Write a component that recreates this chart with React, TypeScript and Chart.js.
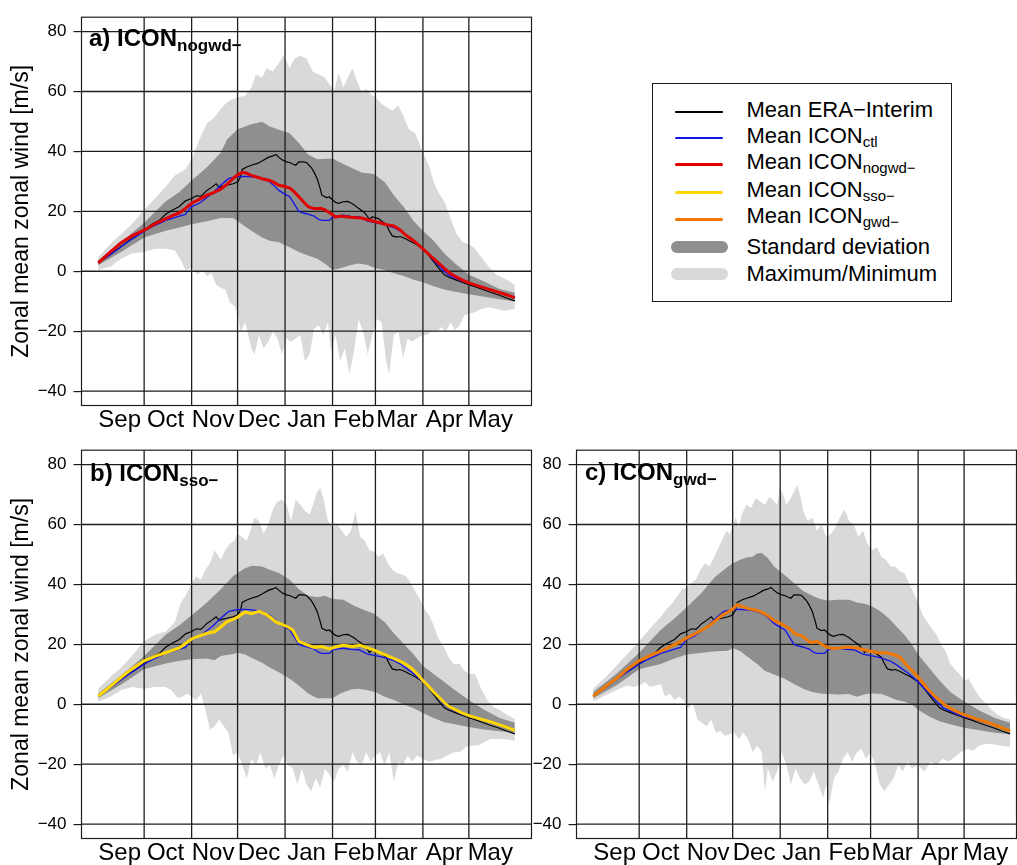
import React, { useEffect, useRef } from 'react';
import { Chart, registerables } from 'chart.js';

Chart.register(...registerables);

type P = [number, number];

const FONT = '"Liberation Sans", Arial, Helvetica, sans-serif';

// x axis: day of season, 0 = 1 Sep ... 272 = 31 May
const MONTHS = ['Sep', 'Oct', 'Nov', 'Dec', 'Jan', 'Feb', 'Mar', 'Apr', 'May'];
const MONTH_MID_DAYS = [14, 44, 75, 105, 136, 167, 195, 226, 256];
const MONTH_START_DAYS = [30, 61, 91, 122, 153, 181, 212, 242];
const Y_TICKS = [-40, -20, 0, 20, 40, 60, 80];
const Y_TITLE = 'Zonal mean zonal wind [m/s]';

// ---------- shared means ----------
const ERA: P[] = [[0,2.8],[5,4.6],[10,6.4],[15,8.3],[20,10.2],[25,11.8],[30,13.7],[35,15.7],[40,17],[44,19],[48,20.3],[53,21.6],[57,23.5],[61,24.3],[64,25.2],[67,25],[71,27],[74,28],[77,29.2],[79,28],[82,28.5],[84,28.7],[88,29.2],[91,29.8],[93,31.5],[94,34],[97,34.8],[100,35.4],[104,36],[107,36.8],[111,38],[114,38.5],[116,39],[118,38],[120,37.2],[123,36.5],[125,36.3],[127,35.8],[129,35.4],[131,36.5],[134,36.5],[136,36.3],[139,34.7],[141,33],[143,30.9],[145,27.5],[146,25.4],[149,24.6],[151,24.8],[153,23.8],[155,23],[157,22.7],[160,23.2],[163,23.3],[165,22.8],[167,22.2],[170,21],[172,20.3],[174,19.5],[176,18.2],[177,17.3],[179,18.2],[181,17.8],[183,17.6],[185,16.8],[188,15.7],[190,13.5],[192,11.8],[195,11.4],[197,11.6],[200,11],[203,10.2],[207,9.2],[212,7.5],[215,5.8],[219,3.2],[222,1.2],[226,-1.2],[229,-2],[233,-2.8],[237,-3.6],[242,-4.5],[247,-5.3],[251,-6.1],[256,-7],[262,-8],[267,-9],[272,-9.9]];

const CTL: P[] = [[0,2.8],[5,4.5],[10,6.3],[15,8.2],[20,10],[25,11.7],[30,13.4],[35,14.8],[40,16],[44,17],[48,17.6],[53,18.4],[57,19],[59,20.5],[61,21.6],[66,22.7],[71,24.6],[75,26.2],[80,28.7],[85,30.9],[88,31.3],[91,31.6],[96,31.7],[102,31.4],[107,30.9],[112,29.8],[115,28.5],[118,27],[121,26],[125,24.9],[128,22.5],[131,20],[133,19.6],[136,19.2],[141,18.4],[144,17.3],[146,17],[151,17],[153,18.2],[157,18.5],[160,18.7],[165,18.3],[170,18.2],[173,17.5],[176,16.7],[181,16.2],[185,15.8],[188,15.4],[193,14.6],[197,13.5],[200,12.4],[206,10.2],[212,7.5],[216,5.3],[219,3.7],[223,1.5],[226,-0.1],[229,-1.4],[233,-2.3],[237,-3.2],[242,-4.1],[250,-5.3],[257,-6.3],[265,-7.6],[272,-8.8]];

// ---------- panel a: ICON nogwd- ----------
const A_MEAN: P[] = [[0,2.8],[8,6.5],[15,9.5],[22,11.8],[30,13.7],[37,15.8],[44,17.5],[48,18.5],[53,19.5],[57,21],[61,22.7],[66,24],[71,25.4],[75,26.2],[80,27.4],[84,29],[88,30.9],[91,32.2],[94,33],[97,32.7],[100,32],[104,31.4],[107,30.9],[112,30.3],[115,29.6],[118,28.7],[122,28.3],[125,27.8],[128,26.5],[131,24.9],[134,23.2],[137,21.6],[140,21],[143,20.9],[145,21],[148,20.5],[151,19.5],[153,18.9],[155,18.1],[158,18.4],[162,18.2],[165,18],[169,17.9],[172,17.8],[176,17.2],[180,16.7],[184,16.2],[187,15.7],[190,15.4],[193,15.1],[197,13.9],[200,12.4],[203,11.3],[206,10.2],[212,7.5],[216,5.6],[219,4.2],[223,2.4],[226,1],[229,-0.4],[233,-1.7],[237,-2.8],[242,-3.9],[250,-5.2],[257,-6.3],[265,-7.6],[272,-8.8]];
const A_SD_HI: P[] = [[0,3.7],[15,9.7],[30,16.2],[44,23.3],[53,26.5],[61,30.3],[71,34.7],[80,39.6],[84,43.9],[91,47.4],[100,49.1],[107,49.9],[112,48.3],[118,47.2],[125,46.1],[131,42.8],[137,39],[143,37.4],[153,37.6],[160,35.8],[167,34.1],[172,33],[180,32.5],[187,29.8],[193,25.4],[200,21.1],[206,16.7],[212,13.5],[219,10.2],[226,5.9],[233,2.6],[242,-1.2],[252,-3.4],[262,-5.9],[272,-7.2]];
const A_SD_LO: P[] = [[0,2],[15,6.4],[30,11.3],[44,13.5],[53,14.6],[61,15.7],[71,16.7],[80,17.8],[88,17.8],[91,16.7],[100,13.5],[107,11.3],[112,10.2],[118,9.7],[125,8],[131,6.4],[137,5.3],[143,4.2],[148,2.6],[153,0.4],[158,1],[165,2.1],[170,2.6],[176,2.1],[181,1],[187,0.4],[193,-0.7],[200,-1.7],[206,-2.8],[212,-3.7],[219,-5],[226,-6.1],[233,-6.8],[242,-7.7],[252,-8.5],[262,-9.3],[272,-10.1]];
const A_MAX: P[] = [[0,4.8],[8,9.1],[15,12.4],[22,15.7],[30,20.5],[37,24.3],[44,28.2],[50,32],[57,34.1],[61,37.4],[66,43.9],[71,49.3],[76,51.5],[80,54.2],[84,56.4],[88,57.5],[91,58],[96,58.6],[100,61.3],[103,65.7],[107,64.6],[110,67.8],[114,66.7],[118,69.5],[121,72.2],[125,67.8],[128,71],[132,71.9],[136,71],[140,66.7],[144,65.7],[148,64.6],[151,62.4],[154,60.2],[157,66.2],[160,61.3],[163,64.6],[166,67.8],[169,63.5],[172,59.7],[175,60.8],[178,59.1],[181,58],[185,55.9],[188,54.8],[192,53.7],[196,55.3],[199,52.1],[203,47.2],[207,46.1],[212,39.6],[216,35.2],[219,29.8],[222,26.5],[226,23.3],[230,17.8],[234,12.4],[238,9.7],[242,9.1],[246,7.5],[250,4.8],[255,1.5],[260,-1.2],[265,-2.3],[272,-4.5]];
const A_MIN: P[] = [[0,0.4],[8,1.5],[15,4.2],[22,5.9],[30,6.4],[37,7.5],[44,7.5],[50,7],[54,3.7],[57,0.4],[61,1],[65,-1.2],[68,0.4],[71,-1.7],[74,-0.7],[77,-4.5],[80,-5.5],[83,-6.1],[86,-10.4],[89,-11.5],[91,-13.7],[93,-20.2],[96,-17],[98,-21.3],[100,-25.7],[102,-27.8],[105,-21.3],[108,-25.7],[111,-23.5],[114,-20.2],[117,-22.4],[120,-27.8],[123,-22.4],[126,-23.5],[129,-22.4],[132,-21.3],[135,-30],[138,-27.8],[141,-19.1],[144,-18],[147,-21.3],[150,-17],[152,-26.7],[155,-21.3],[158,-30],[161,-25.7],[164,-34.3],[167,-26.7],[170,-15.9],[173,-20.2],[176,-27.8],[179,-21.3],[182,-15.9],[185,-17],[188,-30],[190,-34.3],[193,-21.3],[196,-20.2],[199,-28.9],[202,-22.4],[205,-23.5],[208,-22.4],[212,-21.3],[215,-21.3],[218,-19.7],[221,-20.2],[224,-18.6],[227,-20.2],[230,-17],[233,-19.7],[236,-18],[239,-14.8],[242,-14.2],[246,-13.7],[250,-12.6],[255,-12.1],[260,-12.6],[265,-13.2],[272,-12.6]];

// ---------- panel b: ICON sso- ----------
const B_MEAN: P[] = [[0,2.7],[8,6],[15,9],[22,11.8],[30,14.5],[37,16],[44,17.2],[53,18.8],[57,20.3],[61,21.8],[66,22.8],[71,23.7],[76,24.2],[80,25.8],[84,27.5],[88,28.3],[91,29.1],[96,30.8],[100,30.2],[105,31],[110,29.9],[113,28.8],[116,27.5],[121,26.4],[124,25.8],[127,24.8],[129,23],[131,21],[136,19.9],[141,19],[146,19.3],[151,18.5],[156,19.3],[160,19.7],[166,19.3],[171,19.7],[176,18.8],[181,17.9],[187,16.6],[193,15.3],[199,13.9],[204,12.3],[208,10.3],[212,7.9],[216,5.8],[219,4.1],[223,2.1],[226,0.5],[229,-0.8],[233,-1.8],[237,-2.8],[242,-3.8],[250,-5],[257,-6],[265,-7.4],[272,-8.7]];
const B_SD_HI: P[] = [[0,3.6],[15,9.6],[30,16.1],[44,23.2],[53,26.4],[61,29.7],[71,34],[80,38.4],[88,42.7],[91,43.8],[96,45.4],[100,46.2],[107,46],[112,44.9],[118,43.8],[125,41.6],[131,38.4],[137,36.2],[143,35.7],[148,36.2],[153,35.1],[160,34.9],[167,32.9],[172,31.8],[180,30.2],[187,27.5],[193,23.7],[200,19.9],[206,16.6],[212,12.8],[219,10.1],[226,7.4],[233,4.7],[242,1.4],[252,-1.8],[262,-4.6],[272,-6.2]];
const B_SD_LO: P[] = [[0,2],[15,6.6],[30,11.7],[44,13.6],[53,14.5],[61,15],[71,15.3],[76,14.7],[80,16.1],[88,16.8],[91,17.2],[96,16.6],[100,15.5],[107,13.9],[112,12.3],[118,10.7],[125,8.5],[131,6.3],[137,3.6],[143,2],[148,2],[153,2],[158,3.6],[165,4.9],[170,5.2],[176,4.7],[181,4.1],[187,2.5],[193,1.4],[200,-0.2],[206,-1.3],[212,-2.9],[219,-4.6],[226,-6],[233,-6.7],[242,-7.6],[252,-8.4],[262,-9],[272,-9.5]];
const B_MAX: P[] = [[0,5.2],[8,9.2],[15,12.3],[22,16.1],[30,21],[37,23.2],[44,24.2],[50,27.5],[54,34],[57,36.2],[61,40.5],[64,42.7],[67,41.6],[70,44.9],[73,47.1],[76,51.4],[80,48.2],[83,51.4],[86,53.6],[89,54.7],[91,56.8],[94,55.8],[97,54.7],[100,59],[102,62.3],[105,61.2],[108,56.8],[111,60.1],[114,65],[117,67.7],[120,68.3],[123,66.6],[126,61.2],[129,68.3],[132,66.6],[135,64.5],[138,63.4],[140,66.1],[143,71],[145,72.1],[147,68.8],[150,61.2],[153,59],[156,60.1],[159,57.9],[162,55.8],[165,57.9],[168,64.5],[171,55.8],[174,54.7],[177,51.4],[180,50.9],[183,49.2],[186,50.3],[189,47.1],[192,44.9],[195,43.8],[198,43.3],[201,42.7],[204,40.5],[207,37.8],[210,35.1],[213,31.8],[216,29.7],[219,26.4],[222,22.1],[226,18.8],[229,15.5],[232,13.4],[236,13.4],[239,11.2],[242,10.1],[246,10.1],[250,5.2],[254,1.4],[258,-0.8],[262,-1.8],[267,-3.5],[272,-4.9]];
const B_MIN: P[] = [[0,0.9],[8,2.5],[15,4.7],[22,5.8],[30,5.2],[37,5.8],[44,5.8],[48,4.7],[52,2],[55,2.5],[58,3.6],[61,2.5],[64,1.4],[67,3.6],[70,-1.8],[73,-8.4],[76,-7.3],[79,-5.1],[82,-7.3],[85,-9.5],[88,-17.1],[91,-16],[94,-20.3],[97,-24.7],[100,-18.2],[103,-20.3],[106,-16],[109,-21.4],[112,-20.3],[115,-24.7],[118,-20.3],[121,-17.1],[124,-20.3],[127,-21.4],[130,-26.8],[133,-21.4],[136,-26.8],[139,-29],[142,-24.7],[145,-27.9],[148,-21.4],[151,-23.6],[154,-25.8],[157,-21.4],[160,-20.3],[163,-22.5],[166,-16],[169,-19.2],[172,-20.3],[175,-16],[178,-19.2],[181,-17.1],[184,-16],[187,-20.3],[190,-16],[193,-25.8],[196,-19.2],[199,-20.3],[202,-17.1],[205,-19.2],[208,-17.1],[212,-18.2],[216,-19.2],[220,-18.6],[224,-18.2],[228,-17.1],[232,-16],[236,-16],[240,-14.3],[244,-13.8],[248,-13.8],[252,-12.7],[256,-11.6],[260,-11.6],[265,-11.6],[272,-12.2]];

// ---------- panel c: ICON gwd- ----------
const C_MEAN: P[] = [[0,2.7],[8,5.9],[15,8.5],[22,11.6],[30,14.5],[37,16.2],[44,17.7],[53,19.9],[61,22.1],[66,23.4],[71,24.8],[76,26.3],[80,28],[84,29.7],[88,30.8],[91,31.8],[94,33.2],[97,32.7],[100,32.1],[104,31.6],[107,31.3],[112,30.2],[115,29.1],[118,28],[122,27],[125,26.2],[128,25.3],[132,23.4],[135,23],[137,22.6],[141,20.8],[143,20.6],[146,21],[150,19.7],[153,19],[156,18.6],[161,18.8],[166,19.1],[172,18.8],[176,18.3],[181,17.7],[186,17.2],[191,17.2],[196,16.6],[200,15.8],[203,14],[205,12.8],[209,10.8],[212,9],[216,6.6],[219,4.7],[223,2.6],[226,1.4],[229,0],[233,-1.3],[237,-2.4],[242,-3.5],[250,-4.9],[257,-6],[265,-7.5],[272,-8.9]];
const C_SD_HI: P[] = [[0,4.1],[15,10.1],[30,17.2],[44,24.8],[53,28.6],[61,32.4],[71,37.3],[76,40.5],[80,42.7],[84,44.3],[88,46],[91,47.1],[96,48.2],[100,49],[104,49.2],[107,50.3],[110,50.5],[114,48.7],[118,46],[122,44.3],[127,42.2],[131,40.5],[137,37.8],[143,36.2],[148,35.1],[153,34.6],[160,34.9],[167,34.9],[172,34],[178,33.5],[183,32.4],[188,30.8],[193,28.6],[198,25.9],[203,23.2],[208,19.9],[212,16.6],[219,12.3],[226,7.9],[233,4.1],[242,0.9],[252,-2.1],[262,-4.6],[272,-6.2]];
const C_SD_LO: P[] = [[0,2],[15,6.3],[30,11.7],[44,13.4],[53,15.3],[61,16.6],[71,17.2],[80,17.7],[88,17.9],[91,18.8],[96,17.7],[100,16.1],[107,13.4],[112,11.2],[118,9.9],[125,8.5],[131,6.8],[137,5.2],[143,4.1],[148,3.6],[153,3.4],[160,3.3],[167,3.4],[172,2.5],[178,3.4],[183,3.6],[188,3.4],[193,2.5],[198,1.4],[203,0.9],[208,-0.2],[212,-1.8],[219,-4],[226,-5.7],[233,-6.7],[242,-7.8],[252,-8.7],[262,-9.5],[272,-10]];
const C_MAX: P[] = [[0,5.2],[8,9],[15,12.8],[22,16.6],[30,21],[37,25.3],[44,29.1],[48,31.8],[52,34],[55,36.2],[58,38.4],[61,38.9],[64,40.5],[67,41.6],[70,44.9],[73,47.1],[76,46],[79,49.2],[82,52.5],[85,55.8],[87,57.9],[89,56.8],[91,59.6],[93,62.3],[95,59],[97,63.4],[100,66.6],[103,65.5],[106,68.8],[109,67.7],[112,66.6],[115,69.3],[118,67.7],[120,66.6],[122,72.1],[124,69.9],[126,66.6],[129,68.8],[131,71],[133,73.2],[135,69.9],[137,64.5],[140,61.2],[143,62.3],[146,57.9],[149,60.1],[152,55.8],[155,56.8],[158,59],[161,62.3],[164,65],[167,61.2],[170,60.1],[173,55.8],[176,57.9],[179,53.6],[182,51.4],[185,52.5],[188,49.2],[191,48.2],[194,46],[197,46],[200,44.3],[203,43.8],[206,40.5],[209,37.3],[212,34],[215,29.7],[218,27.5],[221,25.3],[224,23.2],[227,19.9],[230,17.7],[233,13.4],[236,11.7],[239,10.1],[242,7.9],[245,8.5],[248,5.8],[252,2.5],[256,0.3],[260,-1.8],[264,-3.5],[268,-4.6],[272,-5.1]];
const C_MIN: P[] = [[0,0.9],[8,3],[15,4.7],[22,6.3],[26,5.8],[30,6.3],[34,7.4],[37,5.8],[41,6.3],[44,6.8],[47,2.5],[50,3.6],[53,1.4],[56,2.5],[59,1.4],[62,-1.3],[65,0.3],[68,-5.1],[71,-6.2],[74,-7.3],[77,-5.1],[80,-9.5],[83,-8.9],[86,-10.5],[89,-10],[92,-9.5],[95,-11.6],[98,-9.5],[101,-11.6],[104,-16],[107,-13.8],[110,-16],[112,-29],[114,-21.4],[117,-25.8],[120,-22.5],[123,-16],[126,-20.3],[129,-26.8],[132,-21.4],[135,-24.7],[138,-26.8],[141,-25.8],[144,-22.5],[147,-26.8],[150,-31.2],[152,-26.8],[154,-33.4],[157,-24.7],[160,-22.5],[163,-18.2],[166,-16],[169,-19.2],[172,-16],[175,-14.9],[178,-18.2],[181,-16],[184,-20.3],[187,-26.8],[190,-29],[193,-26.8],[196,-24.7],[199,-20.3],[202,-22.5],[205,-19.2],[208,-21.4],[212,-20.3],[216,-22.5],[220,-19.2],[224,-20.3],[228,-18.2],[232,-19.2],[236,-17.6],[240,-16],[244,-14.9],[248,-15.5],[252,-13.8],[256,-13.3],[260,-13.3],[265,-13.8],[272,-14.3]];

// ---------- colours ----------
const COL_ERA = '#000000';
const COL_CTL = '#1414e6';
const COL_NOGWD = '#e00000';
const COL_SSO = '#ffd700';
const COL_GWD = '#f07800';
const COL_SD = '#8f8f8f';
const COL_MAXMIN = '#d9d9d9';
const COL_GRID = '#1e1e1e';

const toXY = (arr: P[]) => arr.map(([x, y]) => ({ x, y }));

const panelPlugin = {
  id: 'panelGrid',
  beforeDatasetDraw(chart: any, args: any) {
    if (args.index !== 2) return;
    const { ctx, chartArea: a, scales } = chart;
    const xs = scales.x;
    const ys = scales.y;
    ctx.save();
    ctx.beginPath();
    ctx.rect(a.left, a.top, a.right - a.left, a.bottom - a.top);
    ctx.clip();
    ctx.strokeStyle = COL_GRID;
    ctx.lineWidth = 1.3;
    ctx.beginPath();
    for (const d of MONTH_START_DAYS) {
      const px = xs.getPixelForValue(d);
      ctx.moveTo(px, a.top);
      ctx.lineTo(px, a.bottom);
    }
    for (const v of Y_TICKS) {
      const py = ys.getPixelForValue(v);
      ctx.moveTo(a.left, py);
      ctx.lineTo(a.right, py);
    }
    ctx.stroke();
    ctx.restore();
  },
  afterDraw(chart: any) {
    const { ctx, chartArea: a } = chart;
    ctx.save();
    ctx.strokeStyle = COL_GRID;
    ctx.lineWidth = 1.2;
    ctx.strokeRect(a.left, a.top, a.right - a.left, a.bottom - a.top);
    ctx.restore();
  },
};

interface PanelCfg {
  mean: P[];
  color: string;
  sdHi: P[];
  sdLo: P[];
  max: P[];
  min: P[];
  xMax: number;
  yWidth: number;
  padRight: number;
  showTitle: boolean;
}

function buildChart(canvas: HTMLCanvasElement, cfg: PanelCfg) {
  const line = (data: P[], color: string, width: number) => ({
    data: toXY(data),
    borderColor: color,
    borderWidth: width,
    pointRadius: 0,
    fill: false,
    tension: 0,
  });
  const band = (data: P[], color: string, fill: any) => ({
    data: toXY(data),
    borderWidth: 0,
    borderColor: 'rgba(0,0,0,0)',
    backgroundColor: color,
    pointRadius: 0,
    fill,
    tension: 0,
  });
  return new Chart(canvas, {
    type: 'line',
    data: {
      datasets: [
        line(cfg.mean, cfg.color, 3),
        line(CTL, COL_CTL, 1.3),
        line(ERA, COL_ERA, 1.2),
        band(cfg.sdLo, COL_SD, '+1'),
        band(cfg.sdHi, COL_SD, false),
        band(cfg.min, COL_MAXMIN, '+1'),
        band(cfg.max, COL_MAXMIN, false),
      ] as any,
    },
    options: {
      animation: false,
      responsive: false,
      devicePixelRatio: 1,
      events: [],
      layout: { padding: { top: 8.5, right: cfg.padRight, left: 0, bottom: 0 } },
      plugins: { legend: { display: false }, tooltip: { enabled: false } },
      scales: {
        x: {
          type: 'linear',
          min: -10.9,
          max: cfg.xMax,
          afterBuildTicks: (s: any) => {
            s.ticks = MONTH_MID_DAYS.map((v) => ({ value: v }));
          },
          afterFit: (s: any) => {
            s.height = 26.5;
          },
          grid: { display: false, drawTicks: false },
          border: { display: false },
          ticks: {
            autoSkip: false,
            maxRotation: 0,
            minRotation: 0,
            padding: 0,
            color: '#000',
            font: { family: FONT, size: 24 },
            callback: (_v: any, i: number) => MONTHS[i],
          },
        },
        y: {
          type: 'linear',
          min: -44.8,
          max: 84.8,
          afterBuildTicks: (s: any) => {
            s.ticks = Y_TICKS.map((v) => ({ value: v }));
          },
          afterFit: (s: any) => {
            s.width = cfg.yWidth;
          },
          grid: { display: true, drawOnChartArea: false, drawTicks: true, tickLength: 8, color: COL_GRID, lineWidth: 1.2 },
          border: { display: false },
          ticks: {
            padding: 7,
            color: '#000',
            font: { family: FONT, size: 17 },
            callback: (v: any) => (Number(v) < 0 ? '\u2212' + Math.abs(Number(v)) : String(v)),
          },
          title: {
            display: cfg.showTitle,
            text: Y_TITLE,
            color: '#000',
            font: { family: FONT, size: 23 },
            padding: { top: 8, bottom: 0 },
          },
        },
      },
    } as any,
    plugins: [panelPlugin],
  });
}

function TextLine(props: {
  left: number;
  baseline: number;
  size: number;
  subSize: number;
  bold?: boolean;
  text: string;
  sub?: string;
  drop: number;
}) {
  const { left, baseline, size, subSize, bold, text, sub, drop } = props;
  const top = baseline - 0.8465 * size;
  return (
    <div
      style={{
        position: 'absolute',
        left,
        top,
        fontFamily: FONT,
        fontSize: size,
        lineHeight: `${size}px`,
        fontWeight: bold ? 'bold' : 'normal',
        whiteSpace: 'nowrap',
        color: '#000',
      }}
    >
      {text}
      {sub ? (
        <span style={{ fontSize: subSize, position: 'relative', top: drop }}>{sub}</span>
      ) : null}
    </div>
  );
}

const LEGEND_ROWS = [
  { text: 'Mean ERA\u2212Interim', sub: '', color: COL_ERA, width: 1.6, lineY: 111.7, base: 117.7 },
  { text: 'Mean ICON', sub: 'ctl', color: COL_CTL, width: 2, lineY: 137.7, base: 143.3 },
  { text: 'Mean ICON', sub: 'nogwd\u2212', color: COL_NOGWD, width: 3.2, lineY: 165, base: 170 },
  { text: 'Mean ICON', sub: 'sso\u2212', color: COL_SSO, width: 3.2, lineY: 192.3, base: 197.3 },
  { text: 'Mean ICON', sub: 'gwd\u2212', color: COL_GWD, width: 3.2, lineY: 219.3, base: 224 },
  { text: 'Standard deviation', sub: '', color: COL_SD, width: 12, lineY: 246.7, base: 255 },
  { text: 'Maximum/Minimum', sub: '', color: COL_MAXMIN, width: 12, lineY: 274.3, base: 281.7 },
];

export default function App() {
  const refA = useRef<HTMLCanvasElement>(null);
  const refB = useRef<HTMLCanvasElement>(null);
  const refC = useRef<HTMLCanvasElement>(null);

  useEffect(() => {
    document.body.style.margin = '0';
    const charts = [
      buildChart(refA.current!, {
        mean: A_MEAN, color: COL_NOGWD, sdHi: A_SD_HI, sdLo: A_SD_LO, max: A_MAX, min: A_MIN,
        xMax: 282.9, yWidth: 81.5, padRight: 2.5, showTitle: true,
      }),
      buildChart(refB.current!, {
        mean: B_MEAN, color: COL_SSO, sdHi: B_SD_HI, sdLo: B_SD_LO, max: B_MAX, min: B_MIN,
        xMax: 282.9, yWidth: 81.5, padRight: 2.5, showTitle: true,
      }),
      buildChart(refC.current!, {
        mean: C_MEAN, color: COL_GWD, sdHi: C_SD_HI, sdLo: C_SD_LO, max: C_MAX, min: C_MIN,
        xMax: 276.2, yWidth: 46.5, padRight: 0.5, showTitle: false,
      }),
    ];
    return () => charts.forEach((c) => c.destroy());
  }, []);

  return (
    <div style={{ position: 'relative', width: 1017, height: 865, background: '#fff', overflow: 'hidden' }}>
      <canvas ref={refA} width={534} height={432} style={{ position: 'absolute', left: 0, top: 0 }} />
      <canvas ref={refB} width={534} height={432} style={{ position: 'absolute', left: 0, top: 433 }} />
      <canvas ref={refC} width={487} height={432} style={{ position: 'absolute', left: 530, top: 433 }} />

      <TextLine left={89} baseline={46} size={24} subSize={17} bold text="a) ICON" sub={'nogwd\u2212'} drop={5} />
      <TextLine left={90} baseline={481} size={24} subSize={17} bold text="b) ICON" sub={'sso\u2212'} drop={5} />
      <TextLine left={585} baseline={480.5} size={24} subSize={17} bold text="c) ICON" sub={'gwd\u2212'} drop={5} />

      <div
        style={{
          position: 'absolute',
          left: 652,
          top: 83,
          width: 298,
          height: 217,
          border: '1px solid #1a1a1a',
        }}
      />
      {LEGEND_ROWS.map((r, i) => (
        <React.Fragment key={i}>
          <div
            style={{
              position: 'absolute',
              left: r.width > 6 ? 671 : 675,
              width: r.width > 6 ? 57 : 48,
              top: Math.round(r.lineY - r.width / 2),
              height: r.width,
              background: r.color,
              borderRadius: r.width / 2,
            }}
          />
          <TextLine left={746.5} baseline={r.base} size={22} subSize={15} text={r.text} sub={r.sub || undefined} drop={4} />
        </React.Fragment>
      ))}
    </div>
  );
}
